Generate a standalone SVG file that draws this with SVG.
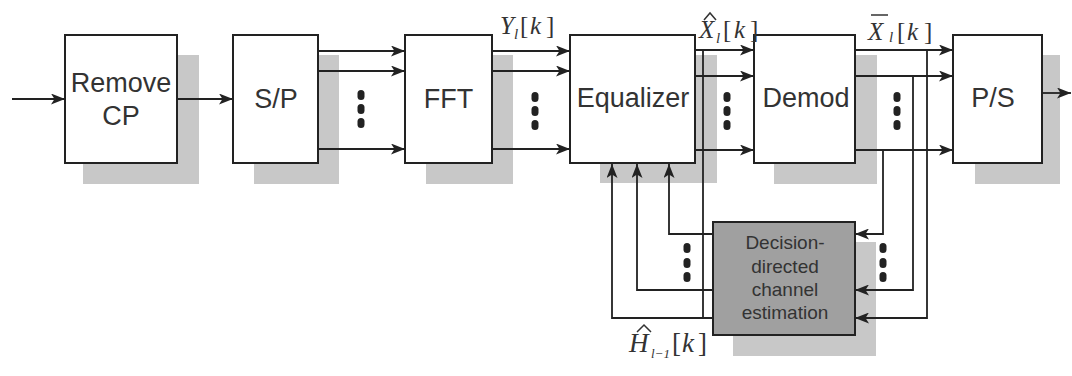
<svg xmlns="http://www.w3.org/2000/svg" width="1072" height="376" viewBox="0 0 1072 376">
<defs>
<marker id="ah" markerWidth="14" markerHeight="11" refX="14" refY="5.5" orient="auto" markerUnits="userSpaceOnUse">
<path d="M0,0 L14,5.5 L0,11 L3.5,5.5 Z" fill="#222"/>
</marker>
</defs>
<style>
.sh{fill:#c8c8c8}
.bx{fill:#fff;stroke:#222;stroke-width:2}
.est{fill:#a0a0a0;stroke:#222;stroke-width:2}
.lb{font-family:"Liberation Sans",Arial,sans-serif;font-size:27px;fill:#333;text-anchor:middle}
.el{font-family:"Liberation Sans",Arial,sans-serif;font-size:19px;fill:#333;text-anchor:middle}
.ln{fill:none;stroke:#222;stroke-width:1.8}
.ar{fill:none;stroke:#222;stroke-width:1.8;marker-end:url(#ah)}
.dot{fill:#222}
.m{font-family:"Liberation Serif","Times New Roman",serif;font-size:25px;fill:#333}
.it{font-style:italic}
.sub{font-size:15px;font-style:italic}
.acc{fill:none;stroke:#333;stroke-width:1.5}
</style>
<rect width="1072" height="376" fill="#fff"/>
<g id="removecp">
<rect class="sh" x="83" y="55" width="116" height="129"/>
<rect class="bx" x="65" y="35" width="112" height="128"/>
<text class="lb" x="121" y="92">Remove</text>
<text class="lb" x="121" y="125">CP</text>
</g>
<g id="sp">
<rect class="sh" x="254" y="55" width="85" height="129"/>
<rect class="bx" x="233" y="35" width="85" height="128"/>
<text class="lb" x="276" y="108">S/P</text>
</g>
<g id="fft">
<rect class="sh" x="426" y="55" width="87" height="129"/>
<rect class="bx" x="405" y="35" width="87" height="128"/>
<text class="lb" x="448.5" y="108">FFT</text>
</g>
<g id="equalizer">
<rect class="sh" x="600" y="55" width="117" height="128"/>
<rect class="bx" x="570" y="35" width="125" height="128"/>
<text class="lb" x="633" y="107">Equalizer</text>
</g>
<g id="demod">
<rect class="sh" x="774" y="55" width="103" height="129"/>
<rect class="bx" x="754" y="35" width="101" height="128"/>
<text class="lb" x="806" y="107">Demod</text>
</g>
<g id="ps">
<rect class="sh" x="975" y="55" width="85" height="129"/>
<rect class="bx" x="953" y="35" width="89" height="128"/>
<text class="lb" x="993" y="107">P/S</text>
</g>
<g id="estimation">
<rect class="sh" x="733" y="242" width="143" height="114"/>
<rect class="est" x="713" y="222" width="142" height="113"/>
<text class="el" x="785" y="249">Decision-</text>
<text class="el" x="785" y="273">directed</text>
<text class="el" x="785" y="296">channel</text>
<text class="el" x="785" y="319">estimation</text>
</g>
<g id="connectors">
<line class="ar" x1="12" y1="99" x2="65" y2="99"/>
<line class="ar" x1="177" y1="99" x2="233" y2="99"/>
<line class="ar" x1="318" y1="51" x2="405" y2="51"/>
<line class="ar" x1="318" y1="71" x2="405" y2="71"/>
<line class="ar" x1="318" y1="149" x2="405" y2="149"/>
<line class="ar" x1="492" y1="51" x2="570" y2="51"/>
<line class="ar" x1="492" y1="71" x2="570" y2="71"/>
<line class="ar" x1="492" y1="149" x2="570" y2="149"/>
<line class="ar" x1="695" y1="50" x2="754" y2="50"/>
<line class="ar" x1="695" y1="76" x2="754" y2="76"/>
<line class="ar" x1="695" y1="150" x2="754" y2="150"/>
<line class="ar" x1="855" y1="50" x2="953" y2="50"/>
<line class="ar" x1="855" y1="76" x2="953" y2="76"/>
<line class="ar" x1="855" y1="150" x2="953" y2="150"/>
<line class="ar" x1="1042" y1="93" x2="1071" y2="93"/>
<line class="ln" x1="703" y1="50" x2="703" y2="318"/>
<polyline class="ar" points="713,234 669,234 669,164"/>
<polyline class="ar" points="713,290 637,290 637,164"/>
<polyline class="ar" points="713,318 612,318 612,164"/>
<polyline class="ar" points="883,150 883,234 855,234"/>
<polyline class="ar" points="913,76 913,290 855,290"/>
<polyline class="ar" points="927,50 927,318 855,318"/>
</g>
<g id="dots">
<rect class="dot" x="357.5" y="90" width="7" height="10" rx="3.5"/>
<rect class="dot" x="357.5" y="104" width="7" height="10" rx="3.5"/>
<rect class="dot" x="357.5" y="118" width="7" height="10" rx="3.5"/>
<rect class="dot" x="531.5" y="92" width="7" height="10" rx="3.5"/>
<rect class="dot" x="531.5" y="106" width="7" height="10" rx="3.5"/>
<rect class="dot" x="531.5" y="120" width="7" height="10" rx="3.5"/>
<rect class="dot" x="723.5" y="92" width="7" height="10" rx="3.5"/>
<rect class="dot" x="723.5" y="106" width="7" height="10" rx="3.5"/>
<rect class="dot" x="723.5" y="120" width="7" height="10" rx="3.5"/>
<rect class="dot" x="893.5" y="92" width="7" height="10" rx="3.5"/>
<rect class="dot" x="893.5" y="106" width="7" height="10" rx="3.5"/>
<rect class="dot" x="893.5" y="120" width="7" height="10" rx="3.5"/>
<rect class="dot" x="683.5" y="243" width="7" height="10" rx="3.5"/>
<rect class="dot" x="683.5" y="258" width="7" height="10" rx="3.5"/>
<rect class="dot" x="683.5" y="272" width="7" height="10" rx="3.5"/>
<rect class="dot" x="879.5" y="243" width="7" height="10" rx="3.5"/>
<rect class="dot" x="879.5" y="258" width="7" height="10" rx="3.5"/>
<rect class="dot" x="879.5" y="272" width="7" height="10" rx="3.5"/>
</g>
<g id="labels">
<text class="m"><tspan class="it" x="500" y="34">Y</tspan><tspan class="sub" x="514" y="39">l</tspan><tspan x="520" y="34">[</tspan><tspan class="it" x="530" y="34">k</tspan><tspan x="546" y="34">]</tspan></text>
<polyline class="acc" points="704,20 710,13 716,20"/>
<text class="m"><tspan class="it" x="699" y="38">X</tspan><tspan class="sub" x="716" y="43">l</tspan><tspan x="723" y="38">[</tspan><tspan class="it" x="734" y="38">k</tspan><tspan x="750" y="38">]</tspan></text>
<line class="acc" x1="871" y1="15" x2="888" y2="15"/>
<text class="m"><tspan class="it" x="868" y="40">X</tspan><tspan class="sub" x="889" y="42">l</tspan><tspan x="897" y="40">[</tspan><tspan class="it" x="907" y="40">k</tspan><tspan x="924" y="40">]</tspan></text>
<polyline class="acc" points="637,332 644,325 651,332"/>
<text class="m" style="font-size:27px"><tspan class="it" x="629" y="352">H</tspan><tspan class="sub" style="font-size:13px" x="651" y="358">l−1</tspan><tspan x="672" y="352">[</tspan><tspan class="it" x="682" y="352">k</tspan><tspan x="698" y="352">]</tspan></text>
</g>
</svg>
